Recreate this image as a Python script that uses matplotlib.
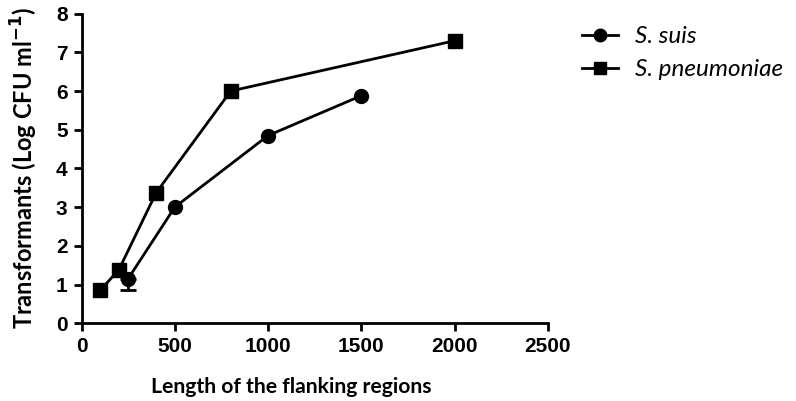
import matplotlib
matplotlib.use("Agg")
import matplotlib.pyplot as plt
from matplotlib.lines import Line2D

suis_x = [250, 500, 1000, 1500]
suis_y = [1.15, 3.0, 4.85, 5.88]
suis_err_x = [250]
suis_err_y = [1.15]
suis_err_low = [0.3]
pneu_x = [100, 200, 400, 800, 2000]
pneu_y = [0.85, 1.38, 3.37, 6.0, 7.3]

fig = plt.figure(figsize=(7.96, 4.01), dpi=100)
ax = fig.add_axes([0.1024, 0.194, 0.586, 0.772])

ax.errorbar(suis_err_x, suis_err_y, yerr=[suis_err_low, [0] * len(suis_err_low)],
            fmt="none", ecolor="black", capsize=6, capthick=2, elinewidth=2)
ax.plot(suis_x, suis_y, color="black", marker="o", markersize=10, linewidth=2)
ax.plot(pneu_x, pneu_y, color="black", marker="s", markersize=10, linewidth=2)

ax.set_xlim(0, 2500)
ax.set_ylim(0, 8)
ax.set_xticks([0, 500, 1000, 1500, 2000, 2500])
ax.set_yticks(range(0, 9))
for s in ["top", "right"]:
    ax.spines[s].set_visible(False)
for s in ["left", "bottom"]:
    ax.spines[s].set_linewidth(2)
ax.tick_params(direction="out", length=6, width=2, pad=4)
for lab in ax.get_xticklabels() + ax.get_yticklabels():
    lab.set_fontfamily("Liberation Sans")
    lab.set_fontweight("bold")
    lab.set_fontsize(15)

ax.set_xlabel("Length of the flanking regions", fontfamily="Lato", fontweight="bold",
              fontsize=15.2)
ax.xaxis.set_label_coords(0.449, -0.175)
ax.set_ylabel("Transformants (Log CFU ml$^{\\mathbf{-1}}$)", fontfamily="Lato",
              fontweight="bold", fontsize=17)
ax.yaxis.set_label_coords(-0.088, 0.5)

handles = [Line2D([], [], color="black", marker="o", markersize=9, linewidth=2),
           Line2D([], [], color="black", marker="s", markersize=9, linewidth=2)]
ax.legend(handles, ["S. suis", "S. pneumoniae"], loc="upper left",
          bbox_to_anchor=(1.025, 1.03), frameon=False,
          prop={"family": "Lato", "style": "italic", "size": 17.5},
          handlelength=1.5, handletextpad=0.7, labelspacing=0.5)
fig.savefig("out.png", dpi=100)
